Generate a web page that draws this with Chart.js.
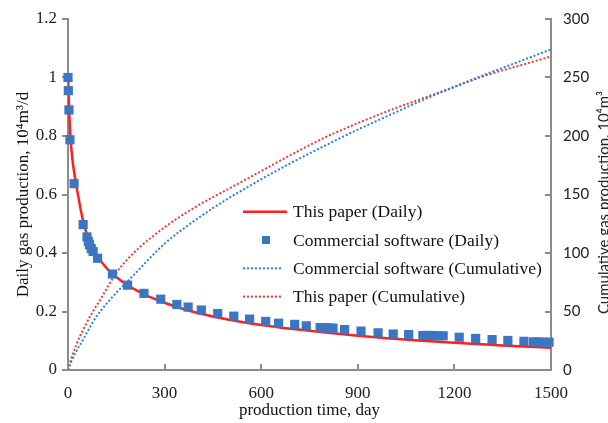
<!DOCTYPE html>
<html>
<head>
<meta charset="utf-8">
<script src="https://cdn.jsdelivr.net/npm/chart.js@4.4.1/dist/chart.umd.min.js"></script>
<style>
    html, body { margin: 0; padding: 0; background: #fff; overflow: hidden; }
    #chart { display: block; }
</style>
</head>
<body>
<canvas id="chart" width="608" height="423"></canvas>
<script>
// This paper (Daily), 10^4 m3/d
const paperDailyDays = [0, 2, 4, 6, 8, 12, 16, 20, 25, 30, 40, 50, 60, 75, 90, 100, 125, 150, 175, 200, 250, 300, 350, 400, 500, 600, 700, 800, 900, 1000, 1100, 1200, 1300, 1400, 1500];
const paperDaily = [1.0, 0.94, 0.88, 0.83, 0.79, 0.74, 0.70, 0.67, 0.635, 0.605, 0.545, 0.495, 0.46, 0.42, 0.39, 0.375, 0.342, 0.318, 0.297, 0.28, 0.252, 0.23, 0.211, 0.196, 0.172, 0.154, 0.14, 0.128, 0.117, 0.108, 0.1, 0.093, 0.087, 0.081, 0.076];

// Commercial software (Daily)
const softDailyDays = [0, 1, 3, 6, 19, 47, 59, 63, 67, 72, 78, 92, 138, 185, 236, 288, 338, 373, 414, 465, 515, 564, 614, 654, 704, 740, 783, 796, 810, 823, 859, 910, 963, 1010, 1058, 1102, 1117, 1133, 1148, 1165, 1215, 1266, 1317, 1366, 1416, 1446, 1462, 1478, 1494];
const softDaily = [1.0, 0.955, 0.889, 0.787, 0.637, 0.497, 0.455, 0.44, 0.428, 0.415, 0.405, 0.382, 0.328, 0.29, 0.262, 0.242, 0.224, 0.215, 0.205, 0.193, 0.184, 0.174, 0.166, 0.16, 0.156, 0.151, 0.145, 0.145, 0.144, 0.143, 0.138, 0.133, 0.127, 0.123, 0.121, 0.118, 0.118, 0.118, 0.117, 0.117, 0.112, 0.108, 0.104, 0.101, 0.098, 0.096, 0.096, 0.095, 0.095];

// Cumulative, 10^4 m3
const cumDays = [0, 5, 10, 25, 50, 75, 100, 150, 200, 300, 400, 500, 600, 700, 800, 900, 1000, 1100, 1200, 1300, 1400, 1500];
const softCum = [0, 3.5, 7, 15.5, 27.5, 40, 50, 66, 80, 108, 129, 147, 163, 178, 192, 205.5, 218, 230.5, 242, 253, 263.5, 274];
const paperCum = [0, 5, 9.5, 21, 36, 49, 60, 83, 99, 122, 140, 155, 170, 185, 199, 211, 222, 232, 242, 252, 260, 268];

// Tick labels
const xTicks = [0, 300, 600, 900, 1200, 1500];
const leftTicks = [0, 0.2, 0.4, 0.6, 0.8, 1, 1.2];
const rightTicks = [0, 50, 100, 150, 200, 250, 300];

const legendLabels = ['This paper (Daily)', 'Commercial software (Daily)', 'Commercial software (Cumulative)', 'This paper (Cumulative)'];

const serif = '"Liberation Serif", "Times New Roman", serif';
const sans = 'Lato, "Open Sans", sans-serif';
const axisGrey = '#8c8c8c';

function toPoints(xs, ys) {
    return xs.map((x, i) => ({ x: x, y: ys[i] }));
}

// Inward ticks, right-hand title and the legend inside the plot
const extrasPlugin = {
    id: 'extras',
    afterDraw(chart) {
        const ctx = chart.ctx;
        const area = chart.chartArea;
        const xs = chart.scales.x;
        const y1 = chart.scales.y1;

        ctx.save();
        ctx.strokeStyle = axisGrey;
        ctx.lineWidth = 2;
        xTicks.forEach(v => {
            const px = Math.round(xs.getPixelForValue(v));
            ctx.beginPath();
            ctx.moveTo(px, area.bottom);
            ctx.lineTo(px, area.bottom - 6);
            ctx.stroke();
        });
        rightTicks.forEach(v => {
            const py = Math.round(y1.getPixelForValue(v));
            ctx.beginPath();
            ctx.moveTo(area.right, py);
            ctx.lineTo(area.right - 6, py);
            ctx.stroke();
        });

        // right axis title, reads bottom to top, clipped by the page edge
        ctx.fillStyle = '#222';
        ctx.font = '15px ' + sans;
        ctx.textAlign = 'center';
        ctx.textBaseline = 'alphabetic';
        ctx.translate(609, (area.top + area.bottom) / 2 + 8);
        ctx.rotate(-Math.PI / 2);
        ctx.fillText('Cumulative gas production, 10⁴m³', 0, 0);
        ctx.restore();

        // legend
        ctx.save();
        ctx.font = '17.5px ' + serif;
        ctx.textBaseline = 'middle';
        ctx.textAlign = 'left';
        chart.data.datasets.forEach((ds, i) => {
            const y = 211.7 + i * 28.3;
            if (ds.showLine) {
                ctx.strokeStyle = ds.borderColor;
                ctx.lineWidth = ds.borderWidth;
                ctx.setLineDash(ds.borderDash || []);
                ctx.beginPath();
                ctx.moveTo(243, y);
                ctx.lineTo(ds.borderDash ? 283 : 287, y);
                ctx.stroke();
                ctx.setLineDash([]);
            } else {
                ctx.fillStyle = ds.backgroundColor;
                ctx.fillRect(262, y - 4, 8, 8);
            }
            ctx.fillStyle = '#111';
            ctx.fillText(legendLabels[i], 293, y + 1);
        });
        ctx.restore();
    }
};

const ctx = document.getElementById('chart').getContext('2d');
new Chart(ctx, {
    type: 'scatter',
    data: {
        datasets: [
            {
                label: legendLabels[0],
                data: toPoints(paperDailyDays, paperDaily),
                yAxisID: 'y',
                showLine: true,
                borderColor: '#ff1f1f',
                backgroundColor: '#ff1f1f',
                borderWidth: 2.5,
                pointRadius: 0,
                cubicInterpolationMode: 'monotone',
                order: 1
            },
            {
                label: legendLabels[1],
                data: toPoints(softDailyDays, softDaily),
                yAxisID: 'y',
                showLine: false,
                backgroundColor: '#3b76c3',
                borderColor: '#3b76c3',
                borderWidth: 0,
                pointStyle: 'rect',
                pointRadius: 6.5,
                clip: false,
                order: 0
            },
            {
                label: legendLabels[2],
                data: toPoints(cumDays, softCum),
                yAxisID: 'y1',
                showLine: true,
                borderColor: '#2a80d6',
                backgroundColor: '#2a80d6',
                borderWidth: 2,
                borderDash: [2, 2],
                pointRadius: 0,
                cubicInterpolationMode: 'monotone',
                order: 2
            },
            {
                label: legendLabels[3],
                data: toPoints(cumDays, paperCum),
                yAxisID: 'y1',
                showLine: true,
                borderColor: '#f03a3a',
                backgroundColor: '#f03a3a',
                borderWidth: 2,
                borderDash: [2, 2],
                pointRadius: 0,
                cubicInterpolationMode: 'monotone',
                order: 3
            }
        ]
    },
    options: {
        responsive: false,
        animation: false,
        layout: {
            padding: { top: 19, left: 0, right: 0, bottom: 0 }
        },
        plugins: {
            legend: { display: false },
            tooltip: { enabled: false }
        },
        scales: {
            x: {
                type: 'linear',
                min: 0,
                max: 1500,
                afterBuildTicks: s => { s.ticks = xTicks.map(v => ({ value: v })); },
                afterFit: s => { s.height = 53; },
                grid: { display: false },
                border: { display: true, color: axisGrey, width: 2 },
                ticks: {
                    padding: 5,
                    color: '#222',
                    font: { family: serif, size: 17 },
                    callback: v => String(v)
                },
                title: {
                    display: true,
                    text: 'production time, day',
                    color: '#111',
                    font: { family: serif, size: 17 },
                    padding: { top: 0, bottom: 2 }
                }
            },
            y: {
                type: 'linear',
                position: 'left',
                min: 0,
                max: 1.2,
                afterBuildTicks: s => { s.ticks = leftTicks.map(v => ({ value: v })); },
                afterFit: s => { s.width = 68; },
                grid: {
                    drawOnChartArea: false,
                    drawTicks: true,
                    tickLength: 6,
                    color: axisGrey,
                    lineWidth: 2
                },
                border: { display: true, color: axisGrey, width: 2 },
                ticks: {
                    padding: 5,
                    color: '#222',
                    font: { family: serif, size: 17 },
                    callback: v => String(+v.toFixed(1))
                },
                title: {
                    display: true,
                    text: 'Daily gas production, 10⁴m³/d',
                    color: '#111',
                    font: { family: serif, size: 17 },
                    padding: { top: 13, bottom: 0 }
                }
            },
            y1: {
                type: 'linear',
                position: 'right',
                min: 0,
                max: 300,
                afterBuildTicks: s => { s.ticks = rightTicks.map(v => ({ value: v })); },
                afterFit: s => { s.width = 57; },
                grid: { display: false },
                border: { display: true, color: axisGrey, width: 2 },
                ticks: {
                    padding: 4,
                    color: '#222',
                    font: { family: sans, size: 15 }
                }
            }
        }
    },
    plugins: [extrasPlugin]
});
</script>
</body>
</html>
